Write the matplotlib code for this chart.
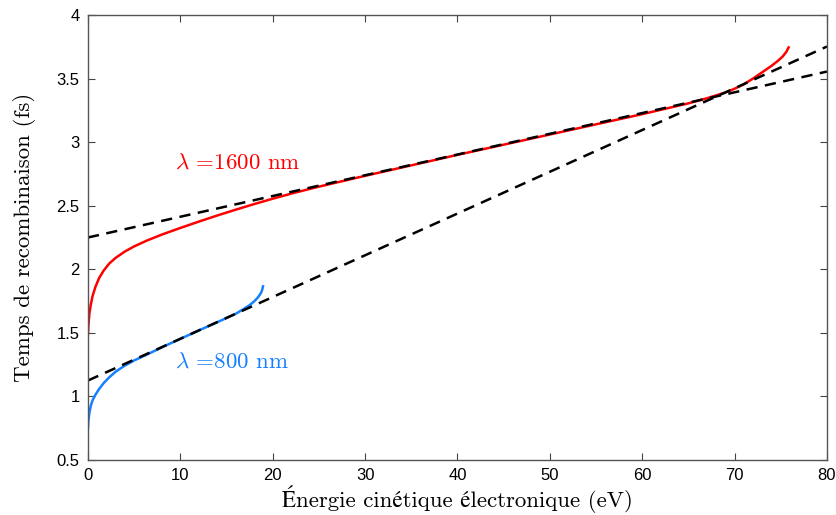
import matplotlib
matplotlib.use("Agg")
import matplotlib.pyplot as plt

# courbe lambda = 1600 nm
red_x = [0.0, 0.05, 0.15, 0.3, 0.5, 0.8, 1.2, 1.7, 2.3, 3.0, 4.0, 5.0, 6.35, 8.0,
         10.0, 12.0, 14.0, 16.0, 18.0, 20.0, 22.0, 25.0, 30.0, 40.0, 50.0, 60.0,
         65.0, 67.0, 69.0, 70.0, 71.0, 72.0, 73.0, 74.0, 74.7, 75.2, 75.6, 75.85]
red_y = [1.49, 1.56, 1.65, 1.72, 1.79, 1.86, 1.93, 1.99, 2.045, 2.09, 2.14, 2.18,
         2.225, 2.273, 2.325, 2.375, 2.423, 2.469, 2.513, 2.555, 2.595, 2.65, 2.735,
         2.90, 3.06, 3.22, 3.305, 3.345, 3.39, 3.42, 3.455, 3.50, 3.55, 3.60, 3.64,
         3.673, 3.71, 3.745]

# courbe lambda = 800 nm
blue_x = [0.0, 0.05, 0.15, 0.3, 0.5, 0.8, 1.2, 1.7, 2.3, 3.0, 4.0, 5.0, 6.35, 8.0,
          10.0, 12.0, 14.0, 15.0, 16.0, 16.8, 17.5, 18.0, 18.4, 18.7, 18.85, 18.95]
blue_y = [0.75, 0.81, 0.87, 0.925, 0.97, 1.012, 1.058, 1.105, 1.15, 1.195, 1.243,
          1.283, 1.328, 1.386, 1.453, 1.519, 1.584, 1.617, 1.65, 1.685, 1.718, 1.748,
          1.779, 1.81, 1.835, 1.866]

# ajustements lineaires (tirets)
fit_x = [0, 80]
fit_1600 = [2.25, 3.555]
fit_800 = [1.125, 3.752]

serif = ["cmr10", "STIXGeneral", "DejaVu Serif"]
plt.rcParams["mathtext.fontset"] = "cm"
plt.rcParams["axes.unicode_minus"] = False

fig = plt.figure(figsize=(8.37, 5.15), dpi=100)
ax = fig.add_axes([0.1051, 0.1068, 0.8829, 0.8641])

ax.plot(red_x, red_y, color="#ff0000", lw=1.8)
ax.plot(blue_x, blue_y, color="#1580ff", lw=1.8)
ax.plot(fit_x, fit_1600, color="black", lw=1.8, ls=(0, (4.5, 3)))
ax.plot(fit_x, fit_800, color="black", lw=1.8, ls=(0, (4.5, 3)))

ax.text(9.4, 2.84, r"$\lambda$ =1600 nm", color="#ff0000", fontsize=16.5,
        family=serif, va="center")
ax.text(9.4, 1.27, r"$\lambda$ =800 nm", color="#1580ff", fontsize=16.5,
        family=serif, va="center")

ax.set_xlim(0, 80)
ax.set_ylim(0.5, 4)
ax.set_xticks(range(0, 81, 10))
ax.set_yticks([0.5, 1, 1.5, 2, 2.5, 3, 3.5, 4])
ax.set_yticklabels(["0.5", "1", "1.5", "2", "2.5", "3", "3.5", "4"])
ax.tick_params(direction="in", length=5, width=0.8, top=True, right=True,
               labelsize=12, color="#444444", pad=6)
for lab in ax.get_xticklabels() + ax.get_yticklabels():
    lab.set_family(["Liberation Sans Narrow", "Liberation Sans"])
for s in ax.spines.values():
    s.set_color("#555555")
    s.set_linewidth(1.0)

ax.set_xlabel("Énergie cinétique électronique (eV)", fontsize=16.5, family=serif,
              labelpad=1)
ax.set_ylabel("Temps de recombinaison (fs)", fontsize=16.5, family=serif,
              labelpad=15)

fig.savefig("out.png", dpi=100)
